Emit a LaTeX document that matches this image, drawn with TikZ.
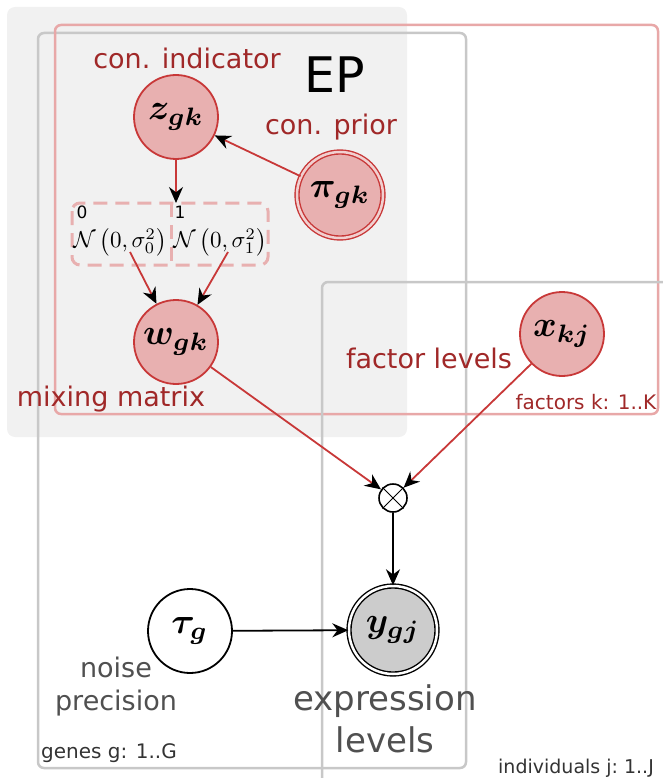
\documentclass[tikz,border=0pt]{standalone}
\usepackage{amsmath,bm}
\usepackage[no-math]{fontspec}
\setmainfont{DejaVu Sans}
\usetikzlibrary{arrows.meta}
\definecolor{nodefill}{HTML}{E8B0B0}
\definecolor{nodedraw}{HTML}{C83838}
\definecolor{lblred}{HTML}{A02828}
\definecolor{plategray}{HTML}{C8C8C8}
\definecolor{platepink}{HTML}{E8A8A8}
\definecolor{epbg}{HTML}{F1F1F1}
\definecolor{txtgray}{HTML}{505050}
\newcommand{\nodemath}[1]{\scalebox{3.6}{$\bm{#1}$}}
\newcommand{\boxmath}[1]{\scalebox{2.3}{$#1$}}
\tikzset{
  rv/.style={circle, draw=nodedraw, fill=nodefill, line width=1.8pt, minimum size=84pt, inner sep=0pt},
  rvdbl/.style={rv, minimum size=86pt, double=nodefill!60!white, double distance=2.5pt, line width=1.4pt},
  obs/.style={circle, draw=black, fill=gray!40, line width=1.4pt, double=white, double distance=2.5pt, minimum size=88pt, inner sep=0pt},
  hyp/.style={circle, draw=black, fill=white, line width=1.8pt, minimum size=84pt, inner sep=0pt},
  plate/.style={rounded corners=6pt, line width=2.5pt},
  redlbl/.style={text=lblred, font=\fontsize{27}{30}\selectfont},
  graylbl/.style={text=txtgray, font=\fontsize{27}{33}\selectfont, align=center},
  platelbl/.style={font=\fontsize{20}{22}\selectfont},
  redarr/.style={draw=nodedraw, line width=1.8pt, -{Stealth[black, length=16pt, width=14pt]}},
  blkarr/.style={draw=black, line width=1.8pt, -{Stealth[black, length=16pt, width=14pt]}},
}
\begin{document}
\begin{tikzpicture}[x=1pt, y=-1pt]
\useasboundingbox (0,0) rectangle (663,778);
% EP background
\fill[epbg, rounded corners=8pt] (7,7) rectangle (407,437);
% plates
\draw[plate, draw=plategray] (38,33) rectangle (466,768);
\draw[plate, draw=platepink] (55,25) rectangle (658,414);
\draw[plate, draw=plategray] (322,282) rectangle (680,800);
\node[font=\fontsize{49}{49}\selectfont] (ep) at (335,75) {EP};
% labels
\node[redlbl] (lind) at (187,58) {con. indicator};
\node[redlbl] (lprior) at (331,127) {con. prior};
\node[redlbl] (lmix) at (111,399) {mixing matrix};
\node[redlbl] (lfac) at (429,358) {factor levels};
\node[platelbl, text=lblred] (pfac) at (586,402) {factors k: 1..K};
\node[platelbl, text=black!80] (pgen) at (109,753) {genes g: 1..G};
\node[platelbl, text=black!80, anchor=west, inner sep=0pt, font=\fontsize{19}{21}\selectfont] (pind) at (498,768) {individuals j:~1..J};
\node[graylbl] (lnoise) at (116,687) {noise\\precision};
\node[graylbl, font=\fontsize{34}{42}\selectfont] (lexpr) at (385,719) {expression\\levels};
% nodes
\node[rv] (z) at (176,117) {\nodemath{z_{gk}}};
\node[rvdbl] (pi) at (340,195) {\nodemath{\pi_{gk}}};
\node[rv] (w) at (176,342) {\nodemath{w_{gk}}};
\node[rv] (x) at (562,334) {\nodemath{x_{kj}}};
\node[hyp] (tau) at (190,631) {\nodemath{\tau_{g}}};
\node[obs] (y) at (393,630) {\nodemath{y_{gj}}};
\node[circle, draw=black, fill=white, line width=1.6pt, minimum size=28pt, inner sep=0pt] (prod) at (393,498) {};
\draw[line width=1pt] (prod.north west) -- (prod.south east) (prod.north east) -- (prod.south west);
% mixture box
\draw[draw=nodefill, line width=3pt, dash pattern=on 14pt off 8pt, rounded corners=8pt] (72,203) rectangle (268,265);
\draw[draw=nodefill, line width=3pt, dash pattern=on 14pt off 8pt] (171,203) -- (171,265);
\coordinate (boxtop) at (176,203);
\node[font=\fontsize{17}{17}\selectfont] (n0l) at (82,212) {0};
\node[font=\fontsize{17}{17}\selectfont] (n1l) at (180,212) {1};
\node[inner sep=0pt] (n0) at (120,242) {\boxmath{\mathcal{N}\left(0,\sigma_0^2\right)}};
\node[inner sep=0pt] (n1) at (220,242) {\boxmath{\mathcal{N}\left(0,\sigma_1^2\right)}};
\coordinate (n0b) at (130,252);
\coordinate (n1b) at (228,252);
% edges
\draw[redarr] (pi) -- (z);
\draw[redarr] (z) -- (boxtop);
\draw[redarr] (n0b) -- (w);
\draw[redarr] (n1b) -- (w);
\draw[redarr] (w) -- (prod);
\draw[redarr] (x) -- (prod);
\draw[blkarr] (prod) -- (y);
\draw[blkarr] (tau) -- (y);
\end{tikzpicture}
\end{document}
